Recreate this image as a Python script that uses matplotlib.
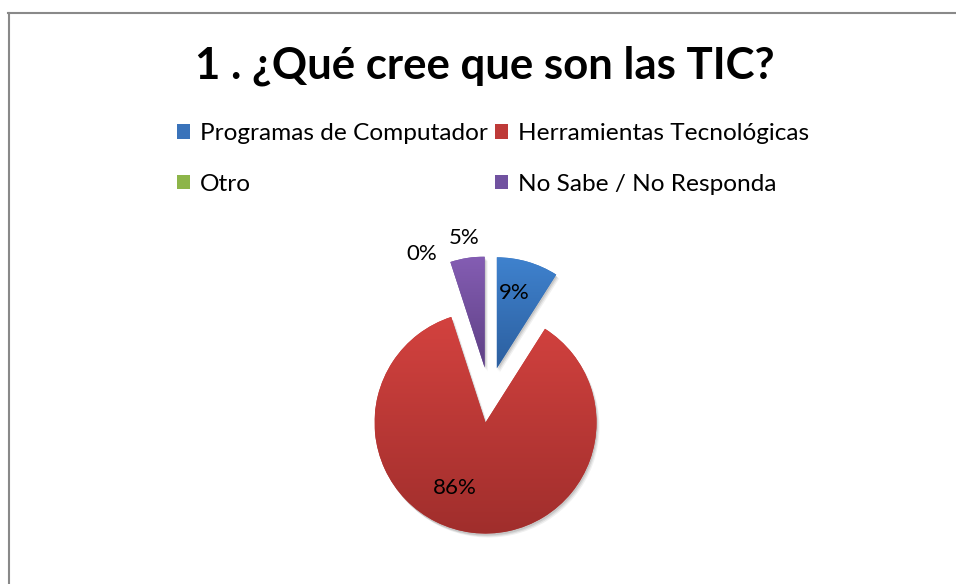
import numpy as np
import matplotlib
matplotlib.use('Agg')
import matplotlib.pyplot as plt
from matplotlib.patches import Wedge, Rectangle
from matplotlib.lines import Line2D
from matplotlib.colors import LinearSegmentedColormap

title = "1 . ¿Qué cree que son las TIC?"
categories = ["Programas de Computador", "Herramientas Tecnológicas", "Otro", "No Sabe / No Responda"]
values = [9, 86, 0, 5]
pct_labels = ["9%", "86%", "0%", "5%"]

base_colors = ['#3A73BA', '#BE3A38', '#8DB549', '#7152A0']
top_colors = ['#3F82CE', '#D3423F', '#9FC45A', '#845DB3']
bottom_colors = ['#2C5F9F', '#A02E2C', '#7A9A3E', '#5E4084']

FONT = 'Lato'
W, H = 956, 584
fig = plt.figure(figsize=(W / 100, H / 100), dpi=100)
ax = fig.add_axes([0, 0, 1, 1])

cx, cy, R = 489, 189, 111
explode = [0.25 * R] * len(values)
wedges, _ = ax.pie(values, colors=base_colors, startangle=90, counterclock=False,
                   radius=R, center=(cx, cy), explode=explode,
                   wedgeprops=dict(linewidth=0))
ax.set_xlim(0, W)
ax.set_ylim(0, H)
ax.set_aspect('auto')
ax.axis('off')

# shadows and gradients
for w, v, tc, bc in zip(wedges, values, top_colors, bottom_colors):
    if v == 0:
        continue
    for dx, dy, a in [(1, -2, 0.10), (2, -3, 0.08), (3, -4, 0.06)]:
        sh = Wedge((w.center[0] + dx, w.center[1] + dy), w.r, w.theta1, w.theta2,
                   facecolor='black', alpha=a, linewidth=0, zorder=0.5)
        ax.add_patch(sh)
    bb = w.get_path().get_extents()
    grad = np.linspace(0, 1, 256).reshape(-1, 1)
    cmap = LinearSegmentedColormap.from_list('g', [bc, tc])
    im = ax.imshow(grad, cmap=cmap, extent=[bb.x0, bb.x1, bb.y0, bb.y1], origin='lower',
                   aspect='auto', zorder=w.get_zorder() + 0.1, interpolation='bilinear')
    im.set_clip_path(w)
ax.set_xlim(0, W)
ax.set_ylim(0, H)

# data labels (Excel best-fit placement)
label_dist = [0.70, 0.65, 1.16, 1.18]
label_off = [3, -18, 9, 0]
for w, lab, d, off in zip(wedges, pct_labels, label_dist, label_off):
    th = np.deg2rad((w.theta1 + w.theta2) / 2 + off)
    x = w.center[0] + d * R * np.cos(th)
    y = w.center[1] + d * R * np.sin(th)
    ax.text(x, y, lab, ha='center', va='center', fontsize=16, family=FONT,
            color='black', zorder=5)

# title
fig.text(485 / W, 1 - 79 / H, title, ha='center', va='baseline', fontsize=31.5,
         fontweight='bold', family=FONT, color='black')

# legend (row-wise order like Excel)
order = [0, 2, 1, 3]
handles = [Rectangle((0, 0), 1, 1, facecolor=base_colors[i], linewidth=0) for i in order]
leg = fig.legend(handles, [categories[i] for i in order], ncol=2, loc='center',
                 bbox_to_anchor=(493 / W, 1 - 159 / H), frameon=False,
                 prop=dict(family=FONT, size=17.6), handlelength=0.55, handleheight=0.55,
                 handletextpad=0.4, columnspacing=0.3, labelspacing=1.2, borderpad=0)

# chart border
fig.add_artist(Line2D([8.5 / W, 8.5 / W], [0, 1 - 12.5 / H], color='#898989', lw=1.5,
                      transform=fig.transFigure))
fig.add_artist(Line2D([8 / W, 1], [1 - 12.5 / H, 1 - 12.5 / H], color='#898989', lw=1.5,
                      transform=fig.transFigure))

fig.savefig('out.png', dpi=100)
